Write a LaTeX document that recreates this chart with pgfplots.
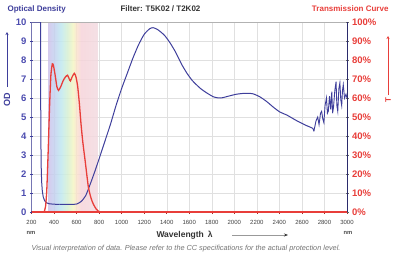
\documentclass[border=0pt]{standalone}
\usepackage{pgfplots}
\pgfplotsset{compat=1.18}
\usepackage{fontspec}
\setmainfont{Liberation Sans}
\usetikzlibrary{arrows.meta}
\definecolor{odblue}{RGB}{62,62,155}
\definecolor{lblblue}{RGB}{75,75,175}
\definecolor{tred}{RGB}{232,62,58}
\definecolor{rb1}{RGB}{205,195,235}
\definecolor{rb2}{RGB}{195,212,240}
\definecolor{rb3}{RGB}{192,232,240}
\definecolor{rb4}{RGB}{215,240,210}
\definecolor{rb5}{RGB}{245,245,195}
\definecolor{rb6}{RGB}{250,225,205}
\definecolor{rb7}{RGB}{246,212,218}
\definecolor{rb8}{RGB}{242,218,224}
\pgfdeclarehorizontalshading{rainbow}{100bp}{color(0bp)=(rb1); color(25bp)=(rb1); color(31.8bp)=(rb2); color(37.5bp)=(rb3); color(44.3bp)=(rb4); color(50bp)=(rb5); color(53.4bp)=(rb6); color(58bp)=(rb7); color(75bp)=(rb8); color(100bp)=(rb8)}
\begin{document}
\begin{tikzpicture}[x=1pt,y=1pt]
\path[use as bounding box] (0,0) rectangle (394,258);
\begin{axis}[
  at={(31.5pt,46pt)}, anchor=south west, scale only axis,
  width=315.5pt, height=190pt,
  xmin=200, xmax=3000, ymin=0, ymax=10,
  xtick={200,400,...,3000}, ytick={0,1,...,10},
  grid=major, grid style={black!12, line width=0.4pt},
  axis line style={draw=none},
  ytick pos=left, xtick pos=bottom, tick align=center,
  major tick length=3pt,
  ytick style={odblue, line width=0.5pt},
  xtick style={tred!70!black, line width=0.5pt},
  yticklabel style={font=\fontsize{9.5}{10}\selectfont\bfseries, text=lblblue},
  xticklabel style={font=\fontsize{6}{6.5}\selectfont, text=black!75, yshift=-3pt},
  /pgf/number format/assume math mode=true,
  /pgf/number format/set thousands separator={},
]
\addplot[draw=none, shade, shading=rainbow, fill opacity=0.85] coordinates {(350,0) (350,10) (790,10) (790,0)} -- cycle;
\draw[odblue, line width=0.8pt] (rel axis cs:0,0) -- (rel axis cs:0,1);
\draw[black!30, line width=1.6pt] (rel axis cs:0,1) -- (rel axis cs:1,1);
\addplot[odblue, line width=1pt, line join=round] coordinates {
(200,10) (280,10) (281,7) (283,4) (286,2.4) (290,1.6) (296,1.1) (304,0.8) (316,0.6) (335,0.48) (360,0.43) (400,0.41) (450,0.4)};
\addplot[odblue, line width=1pt, smooth, tension=0.4] coordinates {
(450,0.4) (550,0.4) (600,0.42) (640,0.55) (680,0.85) (720,1.45) (760,2.1) (800,2.8) (850,3.7) (900,4.6) (950,5.6) (1000,6.5) (1050,7.3) (1100,8.1) (1150,8.8) (1200,9.35) (1250,9.65) (1280,9.7) (1320,9.6) (1380,9.3) (1430,8.9) (1480,8.4) (1530,7.8) (1580,7.3) (1630,6.9) (1700,6.5) (1760,6.25) (1820,6.05) (1880,6.0) (1950,6.1) (2020,6.2) (2100,6.25) (2166,6.22) (2230,6.05) (2290,5.8) (2350,5.5) (2405,5.26) (2467,5.1) (2555,4.8) (2640,4.55) (2697,4.4) (2706,4.25)};
\addplot[odblue, line width=0.9pt] coordinates {
(2706,4.25) (2725,4.8) (2740,5.0) (2752,4.6) (2765,5.2) (2775,5.3) (2785,4.9) (2795,4.7) (2805,5.6) (2818,6.0) (2826,5.2) (2834,5.3) (2845,6.1) (2855,5.4) (2865,6.33) (2872,5.2) (2880,5.5) (2892,6.4) (2903,6.86) (2910,5.6) (2918,5.3) (2928,6.5) (2937,6.8) (2945,5.9) (2953,5.6) (2960,6.4) (2967,6.7) (2978,6.0) (2991,6.2) (3000,6.0)};
\end{axis}
\begin{axis}[
  at={(31.5pt,46pt)}, anchor=south west, scale only axis,
  width=315.5pt, height=190pt,
  xmin=200, xmax=3000, ymin=0, ymax=100,
  axis x line=none, axis y line*=right,
  axis line style={-, odblue!70!black, line width=0.8pt},
  ytick={0,10,...,100}, tick align=center, major tick length=3pt,
  ytick style={black!60, line width=0.5pt},
  yticklabel={\pgfmathprintnumber{\tick}\%},
  yticklabel style={font=\fontsize{9.5}{10}\selectfont\bfseries, text=tred},
  /pgf/number format/assume math mode=true,
]
\addplot[tred, line width=1.6pt] coordinates {(200,0) (3000,0)};
\addplot[tred, line width=1.3pt, smooth, tension=0.35] coordinates {
(312,0) (325,3) (336,12) (348,32) (360,55) (372,72) (385,78) (395,77) (410,72) (425,66) (440,64) (460,66) (480,69) (500,71) (520,72) (535,70) (545,69) (560,71) (580,73) (595,71) (610,66) (625,57) (640,46) (655,37) (678,26) (705,13) (730,7) (750,4) (775,1.5) (800,0.2) (815,0)};
\end{axis}
\node[anchor=west, text=odblue, font=\fontsize{8}{9}\selectfont\bfseries] at (4,249) {Optical Density};
\node[anchor=west, text=black!80, font=\fontsize{8}{9}\selectfont\bfseries] at (117,249) {Filter: T5K02 / T2K02};
\node[anchor=east, text=tred, font=\fontsize{8}{9}\selectfont\bfseries] at (392,249) {Transmission Curve};
\node[rotate=90, text=odblue, font=\fontsize{9}{10}\selectfont\bfseries] at (7,158) {OD};
\draw[odblue, line width=0.5pt, -{Stealth[length=3pt,width=3pt]}] (7,171) -- (7,226);
\node[rotate=90, text=tred, font=\fontsize{8}{9}\selectfont\bfseries] at (388,158) {T};
\draw[tred, line width=0.5pt, -{Stealth[length=3pt,width=3pt]}] (388,163) -- (388,222);
\node[text=black!70, font=\fontsize{5.8}{6}\selectfont\bfseries] at (31,25) {nm};
\node[text=black!70, font=\fontsize{5.8}{6}\selectfont\bfseries] at (348,25) {nm};
\node[text=black!80, font=\fontsize{8.5}{9}\selectfont\bfseries, anchor=west] at (153,23) {Wavelength\hspace{4pt}λ};
\draw[black!40, line width=0.8pt, -{Stealth[length=4pt,width=3pt,black!80]}] (232,23) -- (288,23);
\node[text=black!55, font=\fontsize{7.3}{8}\selectfont\itshape] at (186,9) {Visual interpretation of data. Please refer to the CC specifications for the actual protection level.};
\end{tikzpicture}
\end{document}
